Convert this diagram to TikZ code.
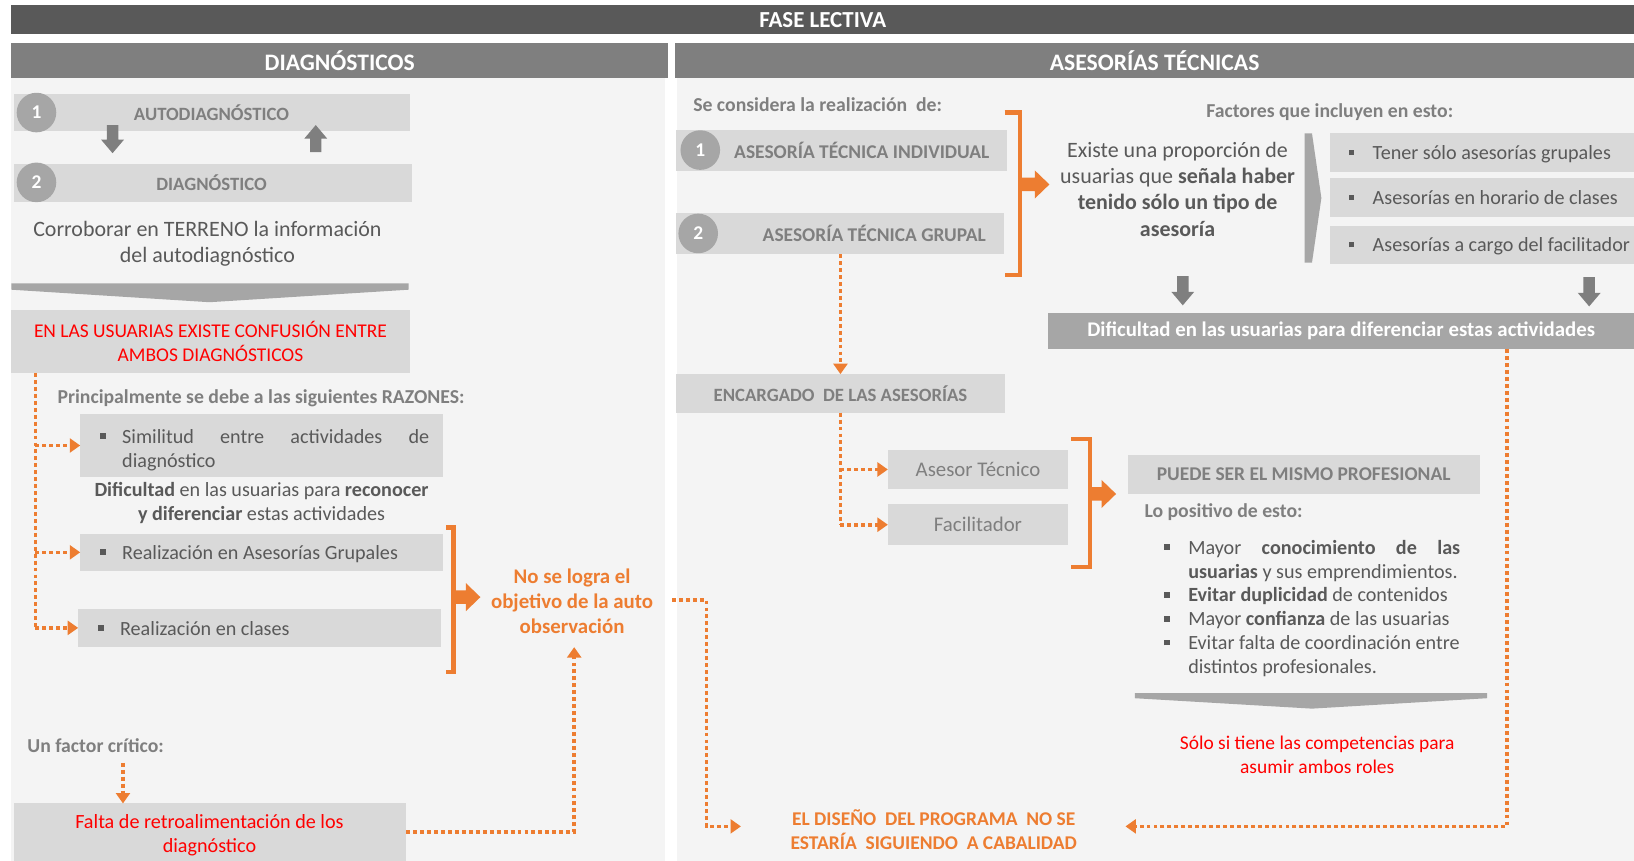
\documentclass[tikz,border=0pt]{standalone}
\usepackage{fontspec}
\setmainfont{Carlito}
\usetikzlibrary{arrows.meta}
\definecolor{cTitle}{HTML}{595959}
\definecolor{cHead}{HTML}{7F7F7F}
\definecolor{cPanel}{HTML}{F4F4F4}
\definecolor{cBox}{HTML}{D9D9D9}
\definecolor{cMid}{HTML}{A6A6A6}
\definecolor{cOrg}{HTML}{ED7D31}
\definecolor{cTxt}{HTML}{595959}
\definecolor{cLbl}{HTML}{7F7F7F}
\definecolor{cRed}{HTML}{FF0000}
\newcommand\fsz[2]{\fontsize{#1}{#2}\selectfont}
\newcommand\sqb{\textcolor{cTxt}{\rule[0.22em]{0.27em}{0.27em}}}
\newcommand\rbox[7][]{%
  \pgfmathsetmacro\rbCX{(#3+#5)/2}%
  \pgfmathsetmacro\rbCY{(#4+#6)/2}%
  \pgfmathsetmacro\rbW{(#5-#3)*0.75}%
  \pgfmathsetmacro\rbH{(#6-#4)*0.75}%
  \node[boxs,minimum width=\rbW pt,minimum height=\rbH pt,#1] (#2) at (\rbCX,\rbCY) {#7};}
\newcommand\darr[3]{\fill[cHead] ({#1-5.5},#2) -- ({#1+5.5},#2) -- ({#1+5.5},{#3-13}) -- ({#1+11},{#3-13}) -- (#1,#3) -- ({#1-11},{#3-13}) -- ({#1-5.5},{#3-13}) -- cycle;}
\newcommand\uarr[3]{\fill[cHead] ({#1-5.5},#3) -- ({#1+5.5},#3) -- ({#1+5.5},{#2+13}) -- ({#1+11},{#2+13}) -- (#1,#2) -- ({#1-11},{#2+13}) -- ({#1-5.5},{#2+13}) -- cycle;}
\newcommand\oarr[3]{\fill[cOrg] (#1,{#3-6.5}) -- ({#2-14},{#3-6.5}) -- ({#2-14},{#3-13.5}) -- (#2,#3) -- ({#2-14},{#3+13.5}) -- ({#2-14},{#3+6.5}) -- (#1,{#3+6.5}) -- cycle;}
\newcommand\obrk[4]{\draw[brk] (#1,#3) -- (#2,#3) -- (#2,#4) -- (#1,#4);}
\begin{document}
\begin{tikzpicture}[x=0.75pt,y=-0.75pt,
  boxs/.style={fill=cBox,inner sep=0,outer sep=0},
  numc/.style={circle,fill=cMid,minimum size=28.5pt,inner sep=0,text=white,font=\fsz{14}{16}\bfseries},
  lblb/.style={text=cLbl,font=\fsz{13.5}{16}\bfseries,inner sep=0},
  lbls/.style={text=cLbl,font=\fsz{14.2}{17}\bfseries,inner sep=0},
  bodyt/.style={text=cTxt,font=\fsz{15.8}{19},align=center,inner sep=0},
  itemt/.style={text=cTxt,font=\fsz{14.5}{17.25},inner sep=0,anchor=mid west,yshift=-2.6pt},
  redt/.style={text=cRed,font=\fsz{14}{17.25},align=center,inner sep=0},
  orgt/.style={text=cOrg,font=\fsz{15}{18}\bfseries,align=center,inner sep=0},
  dotl/.style={draw=cOrg,line width=2.6pt,dash pattern=on 2.8pt off 2.2pt},
  dota/.style={dotl,-{Triangle[length=7.5pt,width=10pt]}},
  brk/.style={draw=cOrg,line width=3.2pt},
]
\useasboundingbox (0,0) rectangle (1568,826);
\fill[white] (0,0) rectangle (1568,826);
% panels
\fill[cPanel] (11,75) rectangle (638,826);
\fill[cPanel] (650,75) rectangle (1568,826);
% title and headers
\rbox[fill=cTitle,text=white,font=\fsz{16.5}{20}\bfseries]{title}{11}{5}{1568}{33}{FASE LECTIVA}
\rbox[fill=cHead,text=white,font=\fsz{17}{20}\bfseries]{hdiag}{11}{41}{641}{75}{DIAGNÓSTICOS}
\rbox[fill=cHead,text=white,font=\fsz{17}{20}\bfseries]{hases}{648}{41}{1568}{75}{ASESORÍAS TÉCNICAS}

% ---------- left panel ----------
\rbox{auto}{13}{90}{393}{126}{}
\node[numc] (n1) at (35,108) {1};
\node[lblb] (autot) at (203,108) {AUTODIAGNÓSTICO};
\darr{108}{120}{147}
\uarr{303}{120}{146}
\rbox{diag}{13}{157}{395}{194}{}
\node[numc] (n2) at (35,175) {2};
\node[lblb] (diagt) at (203,175) {DIAGNÓSTICO};
\node[bodyt] (corr) at (199,234) {Corroborar en TERRENO la información\\del autodiagnóstico};
\fill[cMid] (11,272) -- (392,272) -- (392,278) -- (201,290) -- (11,278) -- cycle;
\rbox[redt]{conf}{11}{297}{393}{358}{EN LAS USUARIAS EXISTE CONFUSIÓN ENTRE\\AMBOS DIAGNÓSTICOS}
\node[lbls,anchor=mid west,yshift=-2.6pt] (raz) at (55,381) {Principalmente se debe a las siguientes RAZONES:};
\rbox{sim}{77}{397}{425}{458}{}
\node[itemt,align=left,anchor=west,yshift=1pt] (simt) at (96,429.5) {\makebox[15.75pt][l]{\sqb}\makebox[221pt][s]{Similitud entre actividades de}\\\makebox[15.75pt]{}diagnóstico};
\node[text=cTxt,font=\fsz{14.5}{17.25},align=center,inner sep=0] (difr) at (251,482.5) {\textbf{Dificultad} en las usuarias para \textbf{reconocer}\\\textbf{y diferenciar} estas actividades};
\rbox{rag}{77}{512}{425}{548}{}
\node[itemt] (ragt) at (96,530) {\makebox[15.75pt][l]{\sqb}Realización en Asesorías Grupales};
\rbox{rcl}{75}{584}{423}{621}{}
\node[itemt] (rclt) at (94,603) {\makebox[15.75pt][l]{\sqb}Realización en clases};
\obrk{428}{435}{506}{645}
\oarr{435}{461}{573}
\node[orgt] (nolo) at (549,577) {No se logra el\\objetivo de la auto\\observación};
\coordinate (lv) at (34,0);
\draw[dotl] (conf.south -| lv) -- (rcl.west -| lv);
\draw[dota] (sim.west -| lv) -- (sim.west);
\draw[dota] (rag.west -| lv) -- (rag.west);
\draw[dota] (rcl.west -| lv) -- (rcl.west);
\node[lbls,anchor=mid west,yshift=-2.6pt] (fac) at (26,715) {Un factor crítico:};
\rbox{falta}{13}{771}{390}{826}{}
\node[redt,font=\fsz{14.5}{17.25}] (faltat) at (201,801.5) {Falta de retroalimentación de los\\diagnóstico};
\coordinate (fa) at (118,732);
\draw[dota] (fa) -- (fa |- falta.north);
\coordinate (nlb) at (551,621);
\draw[dota] (falta.east) -| (nlb);

% ---------- right panel ----------
\node[lbls,anchor=mid west,yshift=-2.6pt] (secon) at (665,100) {Se considera la realización\ \ de:};
\rbox{ati}{649}{125}{966}{164}{}
\node[numc] (n3) at (672,144) {1};
\node[lblb,font=\fsz{14}{16}\bfseries] (atit) at (827,144) {ASESORÍA\ TÉCNICA\ INDIVIDUAL};
\rbox{atg}{649}{204}{963}{244}{}
\node[numc] (n4) at (670,224) {2};
\node[lblb,font=\fsz{14}{16}\bfseries] (atgt) at (839,224) {ASESORÍA\ TÉCNICA\ GRUPAL};
\obrk{964}{979}{108}{264}
\oarr{979}{1007}{177}
\node[bodyt] (exis) at (1130,181.5) {Existe una proporción de\\usuarias que \textbf{señala haber}\\\textbf{tenido sólo un tipo de}\\\textbf{asesoría}};
\fill[cMid] (1252,128) -- (1259,128) -- (1268,190) -- (1259,252) -- (1252,252) -- cycle;
\node[lbls] (fact) at (1276,108) {Factores que incluyen en esto:};
\rbox{f1}{1276}{128}{1568}{165}{}
\rbox{f2}{1276}{171}{1568}{208}{}
\rbox{f3}{1276}{217}{1568}{253}{}
\node[itemt] (f1t) at (1294,146.5) {\makebox[17.25pt][l]{\sqb}Tener sólo asesorías grupales};
\node[itemt] (f2t) at (1294,189.5) {\makebox[17.25pt][l]{\sqb}Asesorías en horario de clases};
\node[itemt] (f3t) at (1294,235) {\makebox[17.25pt][l]{\sqb}Asesorías a cargo del facilitador};
\darr{1135}{265}{293}
\darr{1525}{266}{294}
\rbox[fill=cMid,text=white,font=\fsz{15}{18}\bfseries]{difi}{1006}{300}{1568}{335}{Dificultad en las usuarias para diferenciar estas actividades}
\rbox[lblb]{enc}{649}{359}{964}{396}{ENCARGADO\ \ DE LAS ASESORÍAS}
\draw[dota] (enc.north |- atg.south) -- (enc.north);
\rbox[text=cLbl,font=\fsz{15}{18}]{ases}{852}{432}{1025}{469}{Asesor Técnico}
\rbox[text=cLbl,font=\fsz{15}{18}]{faci}{852}{484}{1025}{523}{Facilitador}
\draw[dotl] (enc.south) -- (faci.west -| enc.south);
\draw[dota] (ases.west -| enc.south) -- (ases.west);
\draw[dota] (faci.west -| enc.south) -- (faci.west);
\obrk{1028}{1046}{421}{544}
\oarr{1046}{1071}{474}
\rbox[lblb,font=\fsz{14}{16}\bfseries]{pue}{1082}{437}{1420}{474}{PUEDE\ SER\ EL\ MISMO\ PROFESIONAL}
\node[lbls,anchor=mid west,yshift=-2.6pt] (lopo) at (1098,490) {Lo positivo de esto:};
\node[itemt] (l1) at (1117,525) {\makebox[17.25pt][l]{\sqb}\makebox[195.75pt][s]{Mayor \textbf{conocimiento de las}}};
\node[itemt] (l2) at (1117,548) {\makebox[17.25pt]{}\textbf{usuarias} y sus emprendimientos.};
\node[itemt] (l3) at (1117,571) {\makebox[17.25pt][l]{\sqb}\textbf{Evitar duplicidad} de contenidos};
\node[itemt] (l4) at (1117,594) {\makebox[17.25pt][l]{\sqb}Mayor \textbf{confianza} de las usuarias};
\node[itemt] (l5) at (1117,617) {\makebox[17.25pt][l]{\sqb}Evitar falta de coordinación entre};
\node[itemt] (l6) at (1117,640) {\makebox[17.25pt]{}distintos profesionales.};
\fill[cMid] (1089,665) -- (1427,665) -- (1427,670) -- (1259,680) -- (1089,670) -- cycle;
\node[redt] (solo) at (1264,724) {Sólo si tiene las competencias para\\asumir ambos roles};
\node[orgt,font=\fsz{14}{17.25}\bfseries] (dise) at (896,796) {EL DISEÑO\ \ DEL PROGRAMA\ \ NO SE\\ESTARÍA\ \ SIGUIENDO\ \ A CABALIDAD};
\coordinate (d1) at (645,576);
\coordinate (d2) at (678,793);
\coordinate (d3) at (711,793);
\draw[dota] (d1) -| (d2) -- (d3);
\coordinate (rx) at (1446,0);
\coordinate (e2) at (1080,793);
\draw[dota] (difi.south -| rx) |- (e2);
\end{tikzpicture}
\end{document}
